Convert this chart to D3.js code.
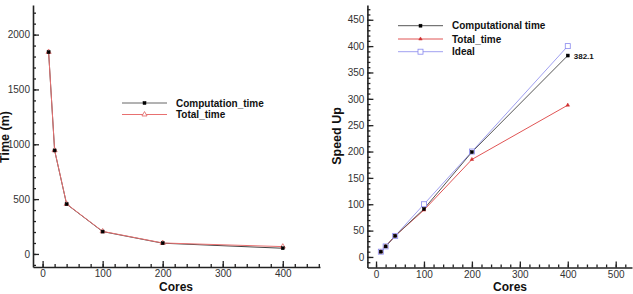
<!DOCTYPE html>
<head>
<meta charset="utf-8">
<style>
  body { margin:0; background:#fff; }
  text { font-family: "Liberation Sans", Arial, sans-serif; }
  .tick text { font-size:10px; fill:#333; }
  .domain, .tick line { stroke:#222; }
</style>
</head>
<script src="https://d3js.org/d3.v7.min.js"></script>
<div id="chart"></div>
<script>
// data
var cores = [10, 20, 40, 100, 200, 400];
var computationTime = [1840, 944, 454, 204, 98, 52];
var totalTime = [1842, 946, 456, 206, 100, 67];

var speedComp = [10, 20, 40, 91, 199, 382.1];
var speedTotal = [10, 20, 40, 89, 185, 288];
var speedIdeal = [10, 20, 40, 100, 200, 400];

var leftYTicks = [0, 500, 1000, 1500, 2000];
var leftXTicks = [0, 100, 200, 300, 400];
var rightYTicks = [0, 50, 100, 150, 200, 250, 300, 350, 400, 450];
var rightXTicks = [0, 100, 200, 300, 400, 500];

var svg = d3.select("#chart").append("svg")
  .attr("width", 633).attr("height", 294);

function drawAxes(x, y, xt, yt, xMinor, yMinor) {
  var xa = svg.append("g").attr("transform", "translate(0," + y.range()[0] + ")");
  xa.call(d3.axisBottom(x).tickValues(xMinor).tickFormat("").tickSize(-3).tickSizeOuter(0))
    .call(g => g.select(".domain").remove());
  xa.append("g").call(d3.axisBottom(x).tickValues(xt).tickFormat(d3.format("d"))
    .tickSize(-6).tickSizeOuter(0).tickPadding(3));
  xa.selectAll("path.domain").attr("stroke-width", 1.6);
  xa.selectAll("line").attr("stroke-width", 1.3);

  var ya = svg.append("g").attr("transform", "translate(" + x.range()[0] + ",0)");
  ya.call(d3.axisLeft(y).tickValues(yMinor).tickFormat("").tickSize(-3).tickSizeOuter(0))
    .call(g => g.select(".domain").remove());
  ya.append("g").call(d3.axisLeft(y).tickValues(yt).tickFormat(d3.format("d"))
    .tickSize(-6).tickSizeOuter(0).tickPadding(3));
  ya.selectAll("path.domain").attr("stroke-width", 1.6);
  ya.selectAll("line").attr("stroke-width", 1.3);
}

function line(x, y, xs, ys, color, width) {
  svg.append("path").datum(xs.map((d, i) => [d, ys[i]]))
    .attr("fill", "none").attr("stroke", color).attr("stroke-width", width || 1)
    .attr("d", d3.line().x(d => x(d[0])).y(d => y(d[1])));
}
function marks(x, y, xs, ys, marker) {
  xs.forEach((d, i) => marker(x(d), y(ys[i])));
}

function square(color, size, open) {
  return function(cx, cy) {
    svg.append("rect").attr("x", cx - size / 2).attr("y", cy - size / 2)
      .attr("width", size).attr("height", size)
      .attr("fill", open ? "#fff" : color).attr("stroke", color).attr("stroke-width", open ? 0.8 : 0.5);
  };
}
function triangle(color, size, open) {
  return function(cx, cy) {
    svg.append("path")
      .attr("d", d3.symbol(d3.symbolTriangle, size * size * 0.45)())
      .attr("transform", "translate(" + cx + "," + cy + ")")
      .attr("fill", open ? "#fff" : color).attr("stroke", color).attr("stroke-width", open ? 0.8 : 0.5);
  };
}

function legendRow(x0, x1, y, label, color, marker) {
  svg.append("line").attr("x1", x0).attr("x2", x1).attr("y1", y).attr("y2", y)
    .attr("stroke", color).attr("stroke-width", 1);
  marker((x0 + x1) / 2, y);
  svg.append("text").attr("x", x1 + 9).attr("y", y + 3.5)
    .attr("font-size", 10).attr("font-weight", "bold").attr("fill", "#111").text(label);
}

// ---- left chart: time
var xL = d3.scaleLinear().domain([-16, 462]).range([33, 320]);
var yL = d3.scaleLinear().domain([-119, 2270]).range([267, 5]);
drawAxes(xL, yL, leftXTicks, leftYTicks, d3.range(0, 461, 20), d3.range(-100, 2201, 100));

line(xL, yL, cores, computationTime, "#444");
line(xL, yL, cores, totalTime, "#e87070");
marks(xL, yL, cores, totalTime, triangle("#e06060", 5, true));
marks(xL, yL, cores, computationTime, square("#000", 3));

legendRow(122, 167, 103, "Computation_time", "#666", square("#000", 3));
legendRow(122, 167, 114.5, "Total_time", "#e87070", triangle("#e06060", 5, true));

svg.append("text").attr("transform", "translate(9,137) rotate(-90)")
  .attr("text-anchor", "middle").attr("font-size", 12.5).attr("font-weight", "bold")
  .attr("fill", "#111").text("Time (m)");
svg.append("text").attr("x", 176).attr("y", 290.5).attr("text-anchor", "middle")
  .attr("font-size", 12).attr("font-weight", "bold").attr("fill", "#111").text("Cores");

// ---- right chart: speed up
var xR = d3.scaleLinear().domain([-18, 534]).range([367.4, 632]);
var yR = d3.scaleLinear().domain([-20, 478]).range([267.5, 5]);
drawAxes(xR, yR, rightXTicks, rightYTicks, d3.range(0, 521, 20), d3.range(-10, 471, 10));

line(xR, yR, cores, speedIdeal, "#a0a0f0");
line(xR, yR, cores, speedTotal, "#e05555");
line(xR, yR, cores, speedComp, "#555");
marks(xR, yR, cores, speedIdeal, square("#8888ee", 5, true));
marks(xR, yR, cores, speedTotal, triangle("#d03030", 3.5));
marks(xR, yR, cores, speedComp, square("#000", 3));

svg.append("text").attr("x", xR(cores[5]) + 6).attr("y", yR(speedComp[5]) + 3)
  .attr("font-size", 8).attr("font-weight", "bold").attr("fill", "#111")
  .text(d3.format(".1f")(speedComp[5]));

legendRow(398, 443, 25.7, "Computational time", "#555", square("#000", 3));
legendRow(398, 443, 39, "Total_time", "#e05555", triangle("#d03030", 3.5));
legendRow(398, 443, 51.7, "Ideal", "#a0a0f0", square("#8888ee", 5, true));

svg.append("text").attr("transform", "translate(341,136) rotate(-90)")
  .attr("text-anchor", "middle").attr("font-size", 12.5).attr("font-weight", "bold")
  .attr("fill", "#111").text("Speed Up");
svg.append("text").attr("x", 510).attr("y", 290.5).attr("text-anchor", "middle")
  .attr("font-size", 12).attr("font-weight", "bold").attr("fill", "#111").text("Cores");
</script>
